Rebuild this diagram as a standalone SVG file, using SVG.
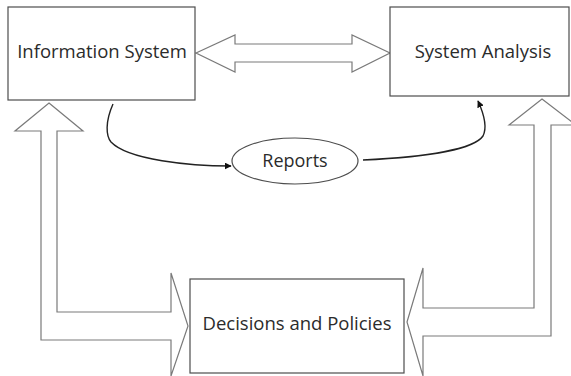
<svg xmlns="http://www.w3.org/2000/svg" width="571" height="376" viewBox="0 0 571 376">
  <style>
    .box { fill: #ffffff; stroke: #4d4d4d; stroke-width: 1.2; }
    .hollow { fill: #ffffff; stroke: #7a7a7a; stroke-width: 1.2; stroke-linejoin: miter; }
    .flow { fill: none; stroke: #222222; stroke-width: 1.4; }
    .label { font-family: "Open Sans", "Liberation Sans", sans-serif; font-size: 18.5px; fill: #2b2b2b; text-anchor: middle; }
  </style>
  <defs>
    <marker id="head" viewBox="0 0 10 10" refX="9" refY="5" markerWidth="7" markerHeight="7" orient="auto" markerUnits="userSpaceOnUse">
      <path d="M0,0 L10,5 L0,10 z" fill="#111111"/>
    </marker>
  </defs>

  <!-- block arrows and flow lines -->
  <g id="connectors">
    <!-- two-way link between the top boxes -->
    <path class="hollow" d="M196,53 L235,35 L235,44 L352,44 L352,35 L390,53 L352,72 L352,62 L235,62 L235,72 Z"/>
    <!-- Decisions feed back up to Information System -->
    <path class="hollow" d="M49,103 L83,131 L57,131 L57,312 L171,312 L171,273 L188,326 L171,376 L171,340 L41,340 L41,131 L15,131 Z"/>
    <!-- System Analysis feeds down to Decisions -->
    <path class="hollow" d="M542,99 L576,125 L551,125 L551,336 L423,336 L423,376 L407,322 L423,268 L423,308 L534,308 L534,125 L509,125 Z"/>
    <!-- report flow -->
    <path class="flow" marker-end="url(#head)" d="M113,104 C105,122 106,136 111,142 C128,160 190,166 231,166"/>
    <path class="flow" marker-end="url(#head)" d="M363,160 C428,157 474,149 483,136 C488,126 483,112 478,101"/>
  </g>

  <g id="information-system">
    <rect class="box" x="8" y="7" width="187" height="93"/>
    <text class="label" x="102" y="58">Information System</text>
  </g>

  <g id="system-analysis">
    <rect class="box" x="390" y="7" width="179" height="89"/>
    <text class="label" x="483" y="58">System Analysis</text>
  </g>

  <g id="reports">
    <ellipse class="box" cx="295" cy="161" rx="63" ry="23"/>
    <text class="label" x="295" y="167" style="font-size:18px">Reports</text>
  </g>

  <g id="decisions-and-policies">
    <rect class="box" x="190" y="279" width="214" height="94"/>
    <text class="label" x="297" y="330">Decisions and Policies</text>
  </g>
</svg>
